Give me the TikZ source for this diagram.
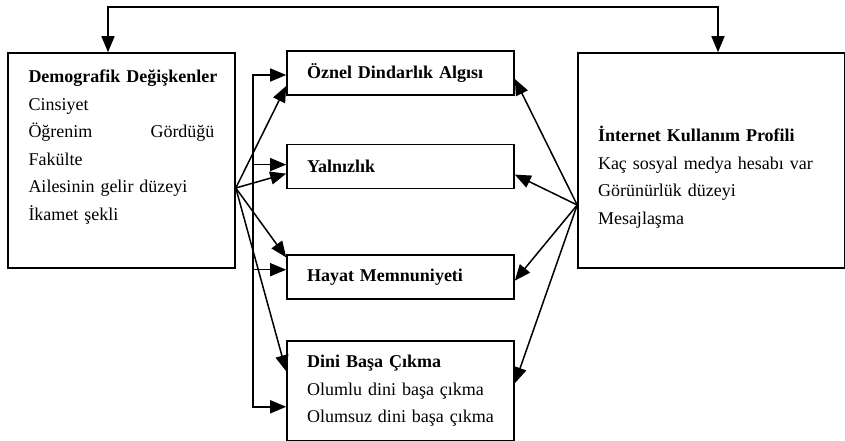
\documentclass[tikz,border=0pt]{standalone}
\usepackage{fontspec}
\setmainfont{Liberation Serif}
\usepackage{tikz}
\usetikzlibrary{positioning, arrows.meta}

\begin{document}
\begin{tikzpicture}
    [
      x=1pt, y=-1pt,
      >={Triangle[length=16pt, width=13pt]},
      every node/.style = {shape=rectangle, draw, line width=1.6pt, align=left,
        font=\fontsize{18}{27.5}\selectfont},
      kutu/.style = {text width=187pt, inner xsep=20pt, minimum height=44pt},
      ok/.style = {line width=1.5pt}
    ]
    \useasboundingbox (0,0) rectangle (845,441);

    % left and right boxes
    \node[text width=186pt, inner xsep=20.5pt, minimum height=215pt](dem) at (121.5,160.5)
      {\mbox{\textbf{Demografik Değişkenler}}\\ Cinsiyet\\ Öğrenim\hfill Gördüğü\\ Fakülte\\
       Ailesinin gelir düzeyi\\ İkamet şekli\rule[-31pt]{0pt}{0pt}};
    \node[text width=227pt, inner xsep=20pt, minimum height=215pt](ikp) at (711.5,160.5)
      {\rule{0pt}{49pt}\textbf{İnternet Kullanım Profili}\\ Kaç sosyal medya hesabı var\\
       Görünürlük düzeyi\\ Mesajlaşma};

    % middle column
    \node[kutu](oda) at (400.5,73) {\textbf{Öznel Dindarlık Algısı}};
    \node[kutu, below=48pt of oda](yal) {\textbf{Yalnızlık}};
    \node[kutu, below=65pt of yal](hm) {\textbf{Hayat Memnuniyeti}};
    \node[kutu, minimum height=100pt, below=40pt of hm](dbc)
      {\textbf{Dini Başa Çıkma}\\ Olumlu dini başa çıkma\\ Olumsuz dini başa çıkma};

    \coordinate (ustL) at (108,7);
    \coordinate (ustR) at (718,7);
    \coordinate (bus) at (253,0);
    \coordinate (b1) at ([yshift=-2pt]oda.west);
    \coordinate (b4) at ([yshift=-16pt]dbc.west);
    \coordinate (demc) at ([yshift=-27.5pt]dem.east);
    \coordinate (ikpc) at ([yshift=-44.5pt]ikp.west);

    % top link
    \draw[ok, <->] (dem.north -| ustL) |- (ustR) -- (ikp.north -| ustR);

    % bus on the left
    \draw[ok, <->] (b1) -- (b1 -| bus) -- (b4 -| bus) -- (b4);
    \draw[ok, ->] ([yshift=2pt]yal.west -| bus) -- ([yshift=2pt]yal.west);
    \draw[ok, ->] ([yshift=7.5pt]hm.west -| bus) -- ([yshift=7.5pt]hm.west);

    % fan from the left box
    \draw[ok, ->] (demc) -- ([yshift=-13pt]oda.west);
    \draw[ok, ->] (demc) -- ([yshift=-7pt]yal.west);
    \draw[ok, ->] (demc) -- ([yshift=-3pt]hm.north west);
    \draw[ok, ->] (demc) -- ([yshift=19.5pt]dbc.west);

    % fan from the right box
    \draw[ok, ->] (ikpc) -- ([yshift=-6pt]oda.east);
    \draw[ok, ->] (ikpc) -- ([yshift=-8pt]yal.east);
    \draw[ok, ->] (ikpc) -- ([yshift=-3.5pt]hm.east);
    \draw[ok, ->] (ikpc) -- ([yshift=7.5pt]dbc.east);
\end{tikzpicture}
\end{document}
